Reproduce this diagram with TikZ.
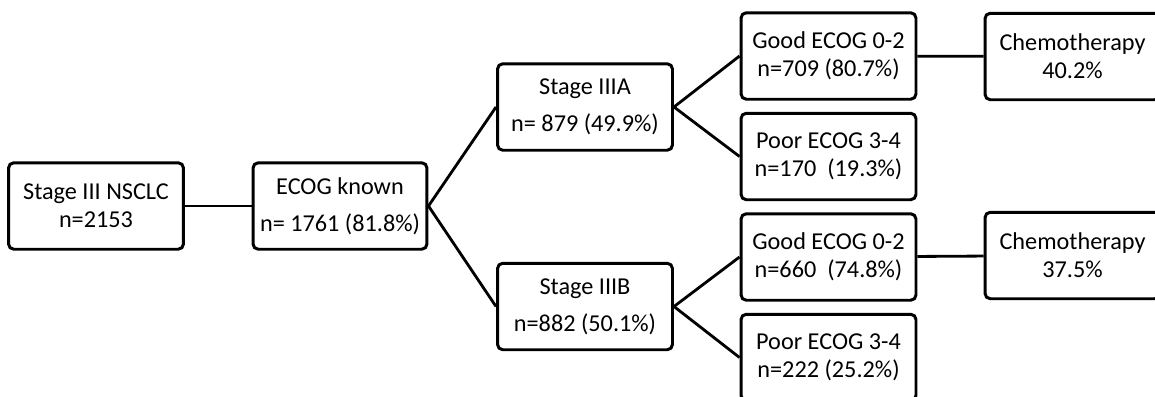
\documentclass[tikz,border=0pt]{standalone}
\usepackage{fontspec}
\setmainfont{Carlito}
\usetikzlibrary{positioning}
\tikzset{
  box/.style={draw,rounded corners=3pt,align=center,line width=1.7pt,
              font=\fontsize{13.8}{16}\selectfont,inner sep=2pt,
              minimum width=3.5cm,minimum height=1.73cm},
  link/.style={line width=1.6pt},
}

\begin{document}
\begin{tikzpicture}[x=0.02cm,y=-0.02cm]
\useasboundingbox (0,0) rectangle (1155,396);
\node[box] (nsclc) at (96,206) {Stage III NSCLC\\n=2153};
\node[box,minimum width=3.48cm] (known) at (340,206) {ECOG known\\[5pt]n= 1761 (81.8\%)};
\node[box] (iiia) at (585,107) {Stage IIIA\\[5pt]n= 879 (49.9\%)};
\node[box] (iiib) at (585,306.5) {Stage IIIB\\[5pt]n=882 (50.1\%)};
\node[box] (goodA) at (828.5,56) {Good ECOG 0-2\\n=709 (80.7\%)};
\node[box] (poorA) at (828.5,156.5) {Poor ECOG 3-4\\n=170~ (19.3\%)};
\node[box] (goodB) at (828.5,257) {Good ECOG 0-2\\n=660~ (74.8\%)};
\node[box] (poorB) at (828.5,357.5) {Poor ECOG 3-4\\n=222 (25.2\%)};
\node[box] (chemoA) at (1072.5,56.5) {Chemotherapy\\40.2\%};
\node[box] (chemoB) at (1072.5,255.5) {Chemotherapy\\37.5\%};
\draw[link] (nsclc) -- (known);
\draw[link] (known.east) -- (iiia.west);
\draw[link] (known.east) -- (iiib.west);
\draw[link] (iiia.east) -- (goodA.west);
\draw[link] (iiia.east) -- (poorA.west);
\draw[link] (iiib.east) -- (goodB.west);
\draw[link] (iiib.east) -- (poorB.west);
\draw[link] (goodA) -- (chemoA);
\draw[link] (goodB) -- (chemoB);
\end{tikzpicture}
\end{document}
